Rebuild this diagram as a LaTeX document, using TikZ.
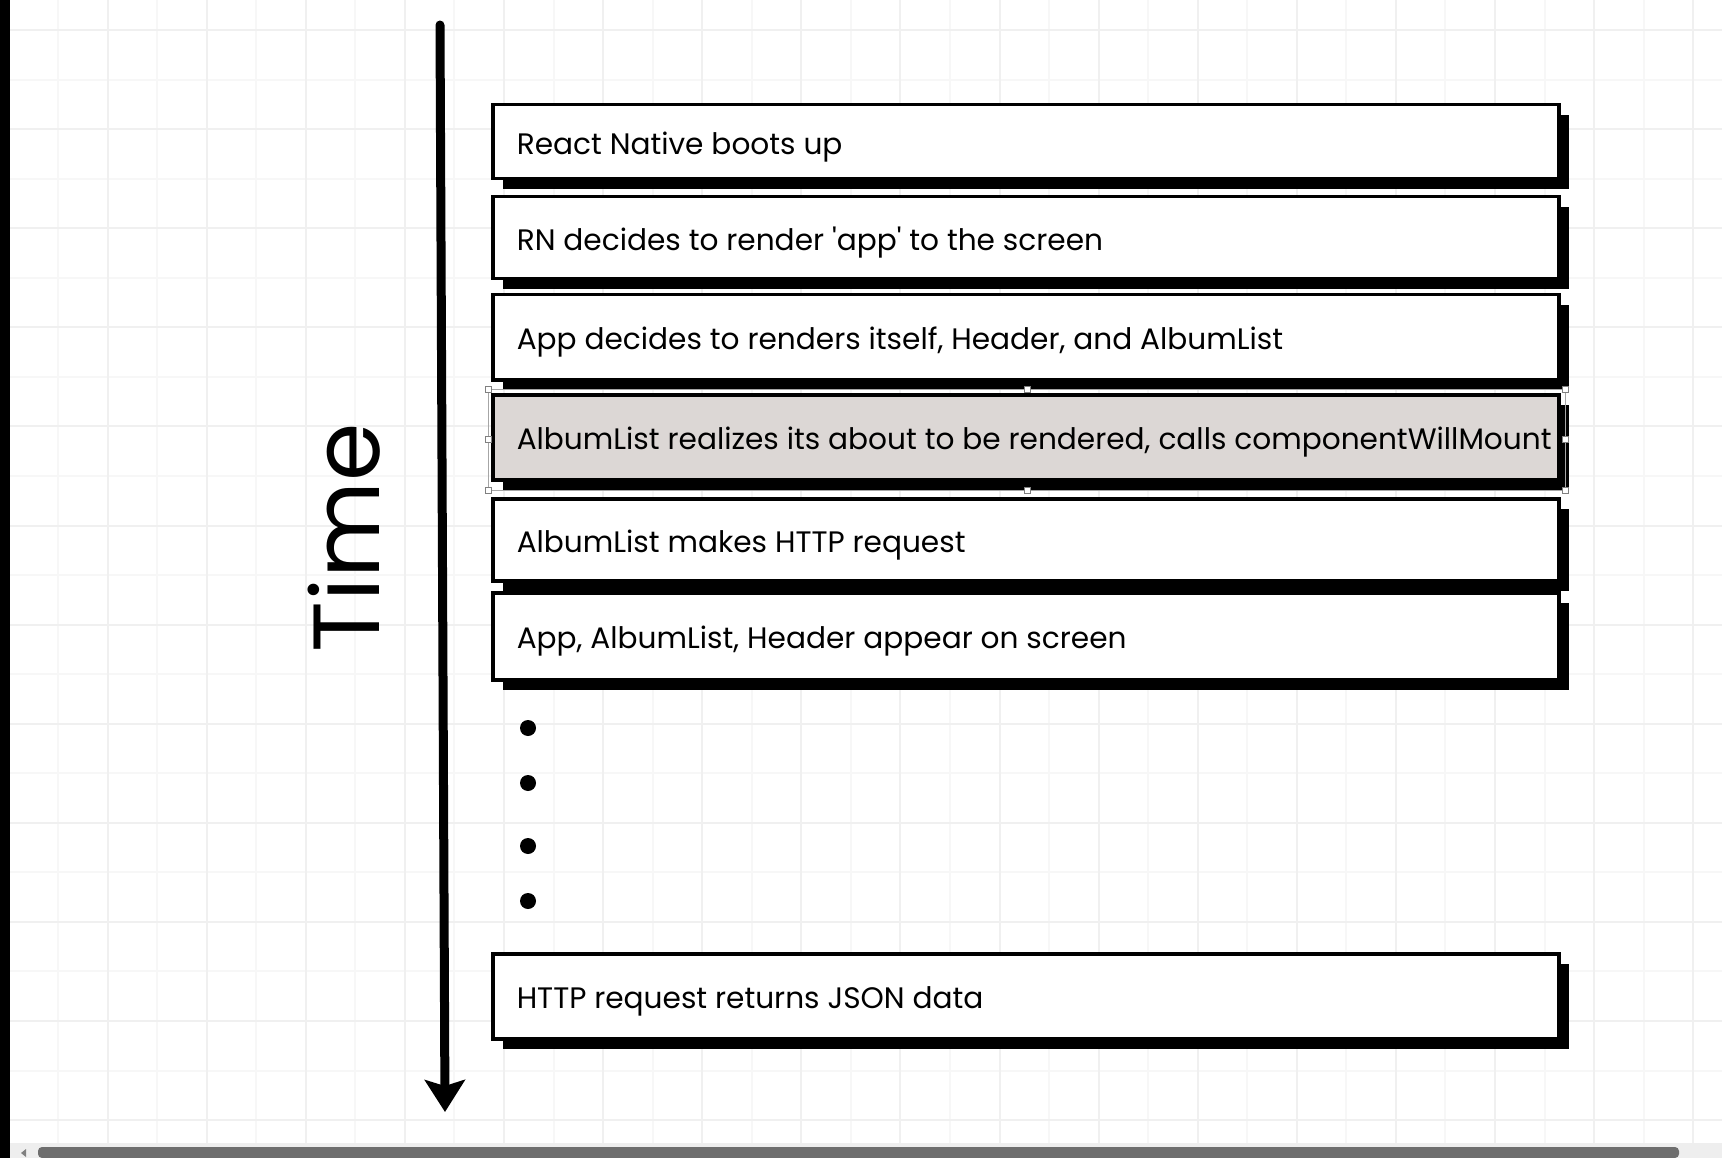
\documentclass[tikz,border=0pt]{standalone}
\usepackage{fontspec}
\setmainfont{Poppins}
\usetikzlibrary{arrows.meta}
\definecolor{gridminor}{HTML}{F7F7F7}
\definecolor{gridmajor}{HTML}{F0F0F0}
\definecolor{selfill}{HTML}{DCD7D5}
\definecolor{scrollbg}{HTML}{EEEEEE}
\definecolor{scrollbar}{HTML}{6E6E6E}
\newcommand{\boxtext}[1]{\makebox[1018pt][l]{\raisebox{-5pt}[\height][\depth]{#1}}}
\begin{document}
\begin{tikzpicture}[x=1pt,y=-1pt,
  stepbox/.style={draw=black, line width=3.5pt, fill=white, rectangle, anchor=north west,
    minimum width=1066pt, inner xsep=24pt, inner ysep=0pt,
    font=\fontsize{29.6}{34}\selectfont,
    preaction={fill=black, transform canvas={xshift=10pt,yshift=-10pt}}},
  dotnode/.style={circle, fill=black, minimum size=16pt, inner sep=0pt},
  handle/.style={rectangle, draw=gray, fill=white, line width=0.8pt, minimum size=6pt, inner sep=0pt},
  gridmin/.style={draw=gridminor, line width=2pt},
  gridmaj/.style={draw=gridmajor, line width=2pt}]
\useasboundingbox (0,0) rectangle (1722,1158);
\fill[white] (0,0) rectangle (1722,1158);
% grid
\foreach \gx in {58.05,157.15,...,1722} \draw[gridmin] (\gx,0) -- (\gx,1158);
\foreach \gy in {79.55,178.65,...,1158} \draw[gridmin] (0,\gy) -- (1722,\gy);
\foreach \gx in {8.5,107.6,...,1722} \draw[gridmaj] (\gx,0) -- (\gx,1158);
\foreach \gy in {30,129.1,...,1158} \draw[gridmaj] (0,\gy) -- (1722,\gy);
% left strip
\fill[black] (0,0) rectangle (10,1158);
% scrollbar
\fill[scrollbg] (10,1143) rectangle (1722,1158);
\fill[scrollbar, rounded corners=4pt] (38,1147) rectangle (1679,1158);
\fill[gray] (21,1153) -- (26,1149) -- (26,1157) -- cycle;
% boxes
\node[stepbox, minimum height=74pt] (b1) at (491,103) {\boxtext{React Native boots up}};
\node[stepbox, minimum height=82pt] (b2) at (491,195) {\boxtext{RN decides to render \textquotesingle app\textquotesingle\ to the screen}};
\node[stepbox, minimum height=85pt] (b3) at (491,293) {\boxtext{App decides to renders itself, Header, and AlbumList}};
\node[stepbox, minimum height=85pt, fill=selfill] (b4) at (491,393) {\boxtext{AlbumList realizes its about to be rendered, calls componentWillMount}};
\node[stepbox, minimum height=82pt] (b5) at (491,497) {\boxtext{AlbumList makes HTTP request}};
\node[stepbox, minimum height=87pt] (b6) at (491,591) {\boxtext{App, AlbumList, Header appear on screen}};
\node[stepbox, minimum height=85pt] (b7) at (491,952) {\boxtext{HTTP request returns JSON data}};
% selection handles
\draw[gray!70, line width=0.8pt] (488,389) rectangle (1565,490);
\node[handle] (h1) at (488,389) {};
\node[handle] (h2) at (1027,389) {};
\node[handle] (h3) at (1565,389) {};
\node[handle] (h4) at (488,439) {};
\node[handle] (h5) at (1565,439) {};
\node[handle] (h6) at (488,490) {};
\node[handle] (h7) at (1027,490) {};
\node[handle] (h8) at (1565,490) {};
% dots
\node[dotnode] (d1) at (528,728) {};
\node[dotnode] (d2) at (528,783) {};
\node[dotnode] (d3) at (528,846) {};
\node[dotnode] (d4) at (528,901) {};
% time arrow
\coordinate (ttop) at (440,25);
\coordinate (tbot) at (445,1112);
\draw[line width=9pt, line cap=round, -{Stealth[length=32pt,width=40pt,inset=6pt]}] (ttop) -- (tbot);
\node[rotate=90, font=\fontsize{94}{94}\selectfont, inner sep=0pt] (time) at (344,538) {Time};
\end{tikzpicture}
\end{document}
